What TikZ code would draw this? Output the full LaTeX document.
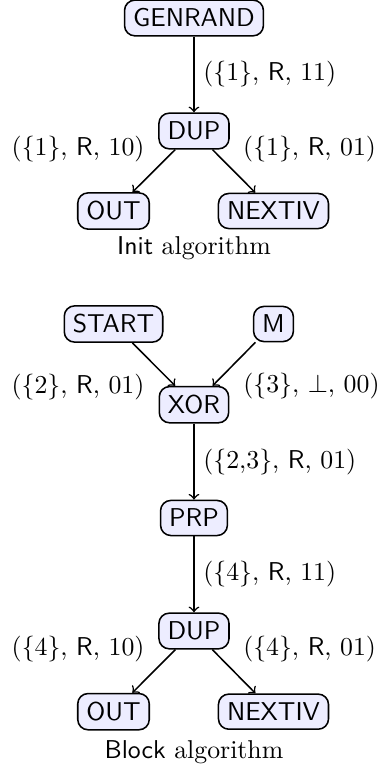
\documentclass[tikz,border=0pt]{standalone}
\usepackage{amssymb}
\usepackage{amsmath}
\usepackage{tikz}

\begin{document}
\begin{tikzpicture}[
  box/.style={draw, semithick, rounded corners, fill=blue!7, font=\sffamily},
  flow/.style={->, semithick}
]
  \useasboundingbox (0,0) rectangle (5.148,-10.474);

  % init algorithm
  \node[box] (genrand) at (2.642,-0.245) {GENRAND};
  \node[box] (dupA) at (2.642,-1.784) {DUP};
  \node[box] (outA) at (1.546,-2.874) {OUT};
  \node[box] (nextivA) at (3.725,-2.874) {NEXTIV};
  \node (capA) at (2.642,-3.378) {\textsf{Init} algorithm};

  \draw[flow] (genrand) -- (dupA) node[midway, right] {$(\{1\}$, $\mathsf{R}$, $11)$};
  \draw[flow] (dupA) -- (outA) node[midway, above left] {$(\{1\}$, $\mathsf{R}$, $10)$};
  \draw[flow] (dupA) -- (nextivA) node[midway, above right] {$(\{1\}$, $\mathsf{R}$, $01)$};

  % block algorithm
  \node[box] (start) at (1.546,-4.413) {START};
  \node[box] (m) at (3.725,-4.413) {M};
  \node[box] (xor) at (2.642,-5.512) {XOR};
  \node[box] (prp) at (2.642,-7.055) {PRP};
  \node[box] (dupB) at (2.642,-8.594) {DUP};
  \node[box] (outB) at (1.546,-9.693) {OUT};
  \node[box] (nextivB) at (3.725,-9.693) {NEXTIV};
  \node (capB) at (2.642,-10.242) {\textsf{Block} algorithm};

  \draw[flow] (start) -- (xor) node[midway, below left] {$(\{2\}$, $\mathsf{R}$, $01)$};
  \draw[flow] (m) -- (xor) node[midway, below right] {$(\{3\}$, $\bot$, $00)$};
  \draw[flow] (xor) -- (prp) node[midway, right] {$(\{2{,}3\}$, $\mathsf{R}$, $01)$};
  \draw[flow] (prp) -- (dupB) node[midway, right] {$(\{4\}$, $\mathsf{R}$, $11)$};
  \draw[flow] (dupB) -- (outB) node[midway, above left] {$(\{4\}$, $\mathsf{R}$, $10)$};
  \draw[flow] (dupB) -- (nextivB) node[midway, above right] {$(\{4\}$, $\mathsf{R}$, $01)$};
\end{tikzpicture}
\end{document}
